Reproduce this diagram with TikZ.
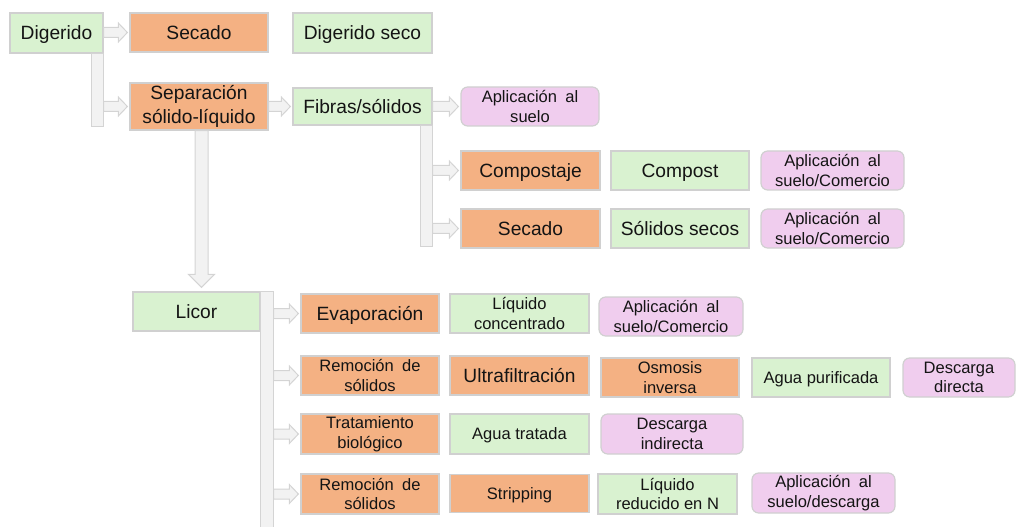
\documentclass[tikz,border=0pt]{standalone}
\usepackage{fontspec}
\setmainfont{Liberation Sans}
\usetikzlibrary{calc}
\newdimen\px \px=0.75pt
\definecolor{gfill}{RGB}{217,242,208}
\definecolor{ofill}{RGB}{244,177,131}
\definecolor{pfill}{RGB}{240,205,238}
\definecolor{bline}{RGB}{208,208,208}
\definecolor{afill}{RGB}{242,242,242}
\definecolor{aline}{RGB}{212,212,212}
\definecolor{txt}{RGB}{20,20,20}
\newcommand\bigf{\fontsize{14.4pt}{18pt}\selectfont}
\newcommand\smf{\fontsize{12.4pt}{14.6pt}\selectfont}
\newcommand\wsp{\hspace{0.5em}}
\tikzset{
  base/.style={draw=bline, line width=0.9pt, inner sep=0pt, align=center, text=txt},
  sz/.style 2 args={minimum width=#1\px, minimum height=#2\px},
  gbox/.style={base, fill=gfill},
  obox/.style={base, fill=ofill},
  pbox/.style={base, fill=pfill, rounded corners=5pt},
  big/.style={font=\bigf},
  small/.style={font=\smf},
  bigone/.style={font=\bigf, text height=13pt, text depth=3.05pt},
  smallone/.style={font=\smf, text height=11.2pt, text depth=2.63pt},
  arr/.style={draw=aline, fill=afill, line width=0.75pt}
}
\newcommand\harr[2]{\path[arr] let \p1=(#1), \p2=(#2) in
  (\x1,\y2+3.75pt) -- (\x2-8.3pt,\y2+3.75pt) -- (\x2-8.3pt,\y2+7.1pt) -- (\x2-1.5pt,\y2)
  -- (\x2-8.3pt,\y2-7.1pt) -- (\x2-8.3pt,\y2-3.75pt) -- (\x1,\y2-3.75pt) -- cycle;}
\newcommand\varr[2]{\path[arr] let \p1=(#1), \p2=(#2) in
  (\x1-4.9pt,\y1) -- (\x1-4.9pt,\y2+12.75pt) -- (\x1-9.75pt,\y2+12.75pt) -- (\x1,\y2+3pt)
  -- (\x1+9.75pt,\y2+12.75pt) -- (\x1+4.9pt,\y2+12.75pt) -- (\x1+4.9pt,\y1) -- cycle;}
\begin{document}
\begin{tikzpicture}[x=0.75pt,y=-0.75pt]
\useasboundingbox (0,0) rectangle (1016,527);
% row 1
\node[gbox,bigone,sz={93}{40}] (dig) at (56.5,33) {Digerido};
\node[obox,bigone,sz={138}{39}] (sec1) at (199,32.5) {Secado};
\node[gbox,bigone,sz={139}{40}] (digs) at (362.5,33) {Digerido seco};
% row 2
\node[obox,big,sz={138}{47}] (sep) at (199,106.5) {Separación\\sólido-líquido};
\node[gbox,bigone,sz={139}{37}] (fib) at (362.5,106.5) {Fibras/sólidos};
\node[pbox,small,sz={138}{39}] (apl1) at (530,106.5) {Aplicación\wsp al\\suelo};
% fibras branches
\node[obox,bigone,sz={139}{39}] (comp) at (530.5,170.5) {Compostaje};
\node[gbox,bigone,sz={138}{39}] (compost) at (680,170.5) {Compost};
\node[pbox,small,sz={143}{39}] (apl2) at (832.5,170.5) {Aplicación\wsp al\\suelo/Comercio};
\node[obox,bigone,sz={139}{39}] (sec2) at (530.5,228.5) {Secado};
\node[gbox,bigone,sz={138}{39}] (solsec) at (680,228.5) {Sólidos secos};
\node[pbox,small,sz={143}{39}] (apl3) at (832.5,228.5) {Aplicación\wsp al\\suelo/Comercio};
% licor
\node[gbox,bigone,sz={127}{39}] (lic) at (196.5,311.5) {Licor};
\node[obox,bigone,sz={138}{39}] (evap) at (370,313.5) {Evaporación};
\node[gbox,small,sz={139}{39}] (liqc) at (519.5,313.5) {Líquido\\concentrado};
\node[pbox,small,sz={144}{39}] (apl4) at (671,316.5) {Aplicación\wsp al\\suelo/Comercio};
\node[obox,small,sz={138}{39}] (rem1) at (370,375.5) {Remoción\wsp de\\sólidos};
\node[obox,bigone,sz={139}{39}] (ultra) at (519.5,375.5) {Ultrafiltración};
\node[obox,small,sz={138}{39}] (osm) at (670,377.5) {Osmosis\\inversa};
\node[gbox,smallone,sz={138}{39}] (aguap) at (821,377.5) {Agua purificada};
\node[pbox,small,sz={112}{39}] (desd) at (959,377.5) {Descarga\\directa};
\node[obox,small,sz={138}{40}] (tbio) at (370,434) {Tratamiento\\biológico};
\node[gbox,smallone,sz={139}{40}] (aguat) at (519.5,434) {Agua tratada};
\node[pbox,small,sz={142}{40}] (desi) at (672,434) {Descarga\\indirecta};
\node[obox,small,sz={138}{40}] (rem2) at (370,494) {Remoción\wsp de\\sólidos};
\node[obox,smallone,sz={139}{38}] (strip) at (519.5,493.5) {Stripping};
\node[gbox,small,sz={139}{40}] (liqn) at (667.5,494) {Líquido\\reducido en N};
\node[pbox,small,sz={143}{40}] (apl5) at (823.5,493) {Aplicación\wsp al\\suelo/descarga};
% free ends of trunks
\coordinate (digend) at (0,127);
\coordinate (fibend) at (0,246);
\coordinate (licend) at (0,527);
% trunks
\path[arr] ([xshift=-9pt]dig.south east) rectangle (dig.south east |- digend);
\path[arr] ([xshift=-9pt]fib.south east) rectangle (fib.south east |- fibend);
\path[arr] (lic.north east) rectangle ([xshift=9.75pt]lic.north east |- licend);
% arrows
\harr{dig.east}{sec1.west}
\harr{dig.south east}{sep.west}
\harr{sep.east}{fib.west}
\harr{fib.east}{apl1.west}
\harr{fib.south east}{comp.west}
\harr{fib.south east}{sec2.west}
\varr{[xshift=1.9pt]sep.south}{lic.north}
\harr{[xshift=9.75pt]lic.north east}{evap.west}
\harr{[xshift=9.75pt]lic.north east}{rem1.west}
\harr{[xshift=9.75pt]lic.north east}{tbio.west}
\harr{[xshift=9.75pt]lic.north east}{rem2.west}
\end{tikzpicture}
\end{document}
